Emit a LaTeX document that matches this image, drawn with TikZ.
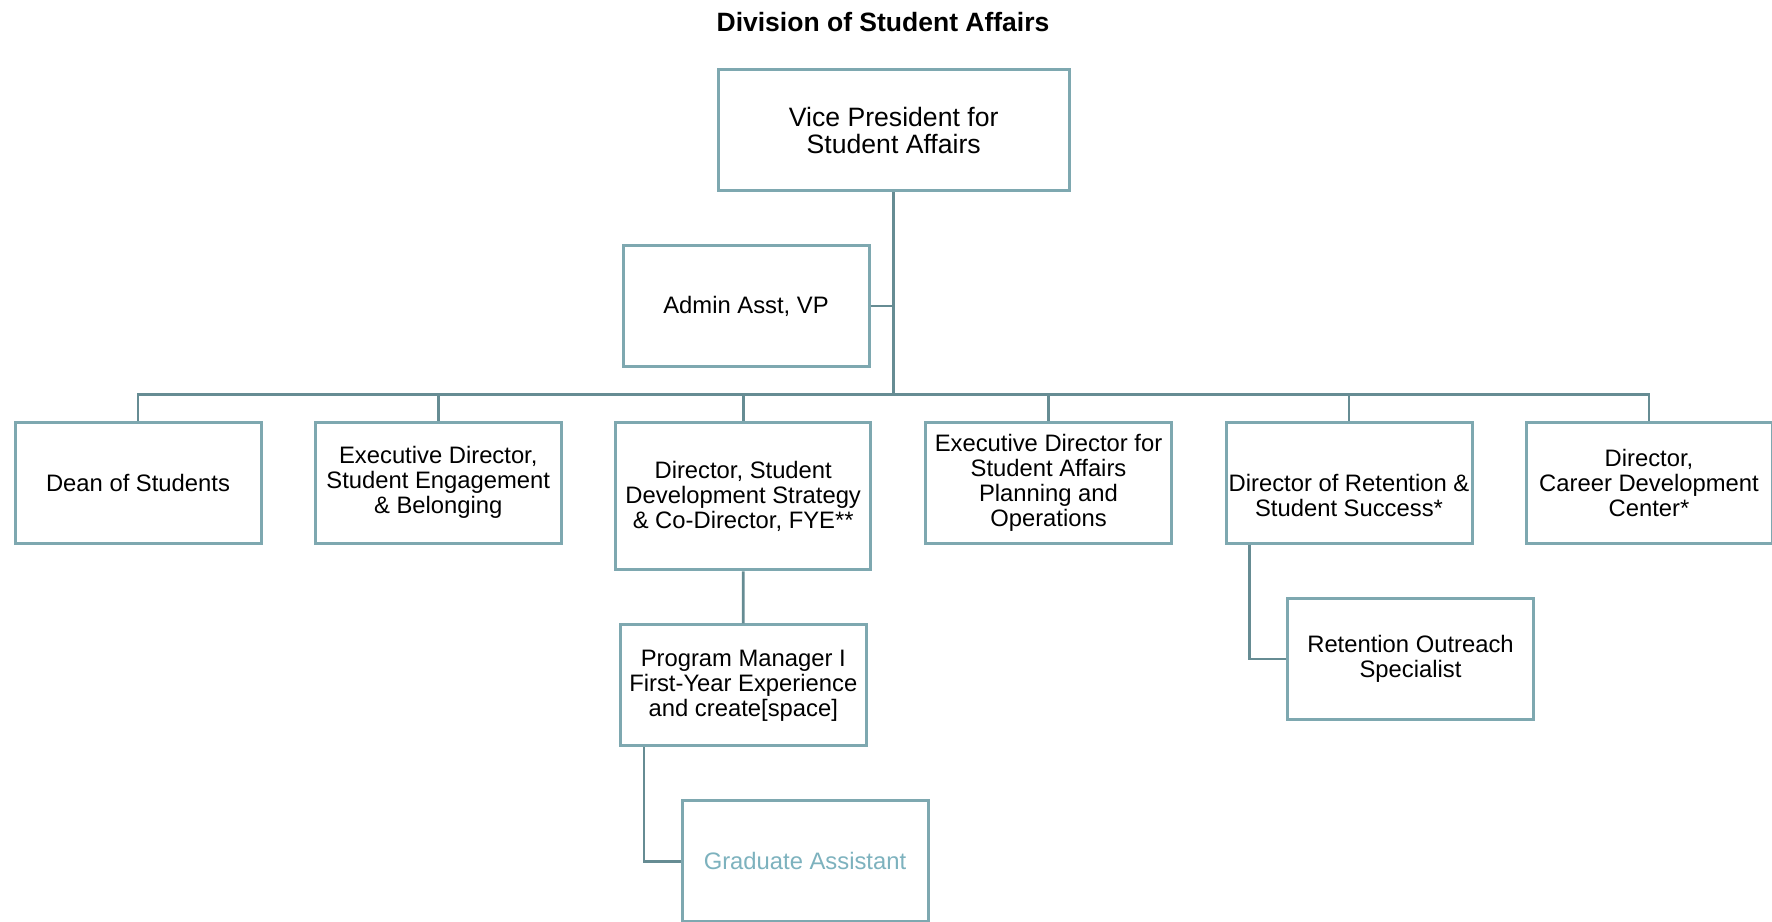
\documentclass[tikz,border=0pt]{standalone}
\usepackage{fontspec}
\setmainfont{Liberation Sans}
\definecolor{boxline}{RGB}{126,168,176}
\definecolor{linkline}{RGB}{102,140,147}
\definecolor{gradtext}{RGB}{125,178,190}
\begin{document}
\begin{tikzpicture}[x=1pt,y=-1pt,
  box/.style={draw=boxline, line width=3pt, fill=white, minimum width=246pt,
    minimum height=121pt, align=center, inner sep=0pt,
    font=\fontsize{23.8}{25}\selectfont},
  bigbox/.style={box, minimum width=351pt, font=\fontsize{26.6}{27}\selectfont},
  tallbox/.style={box, minimum width=255pt, minimum height=147.5pt},
  link/.style={draw=linkline, line width=2.8pt},
  heading/.style={font=\fontsize{26.5}{28}\selectfont\bfseries, anchor=base, inner sep=0pt}]
\path[use as bounding box, clip] (0,0) rectangle (1772,921);

% title
\node[heading] (title) at (883,31.7) {Division of Student Affairs};

% top level
\node[bigbox] (vp) at (893.7,130) {Vice President for\\Student Affairs};
\node[box] (admin) at (746,306) {Admin Asst, VP};

% direct reports
\node[box] (dean) at (138,482.5) {Dean of Students};
\node[box] (seb) at (438.3,482.5) {Executive Director,\\Student Engagement\\\& Belonging};
\node[tallbox] (sds) at (743.2,496) {Director, Student\\Development Strategy\\\& Co-Director, FYE**};
\node[box] (sapo) at (1048.5,482.5) {Executive Director for\\Student Affairs\\Planning and\\Operations};
\node[box] (ret) at (1349,482.5) {\strut\\Director of Retention \&\\Student Success*};
\node[box] (cdc) at (1649,482.5) {Director,\\Career Development\\Center*};

% lower levels
\node[box] (outreach) at (1410.5,659) {Retention Outreach\\Specialist};
\node[box] (pm) at (743.3,685.3) {Program Manager I\\First-Year Experience\\and create[space]};
\node[box, text=gradtext] (grad) at (805,861.3) {Graduate Assistant};

% reporting lines
\coordinate (bus) at (893.7,394.3);
\draw[link] (vp.south) -- (bus);
\draw[link] (admin.east) -- (admin.east -| bus);
\foreach \n in {dean,seb,sds,sapo,ret,cdc}
  \draw[link] (\n.north) |- (bus);
\draw[link] (sds.south) -- (pm.north);
\draw[link] ([xshift=-99.3pt]pm.south) |- (grad.west);
\draw[link] ([xshift=-99.7pt]ret.south) |- (outreach.west);
\end{tikzpicture}
\end{document}
